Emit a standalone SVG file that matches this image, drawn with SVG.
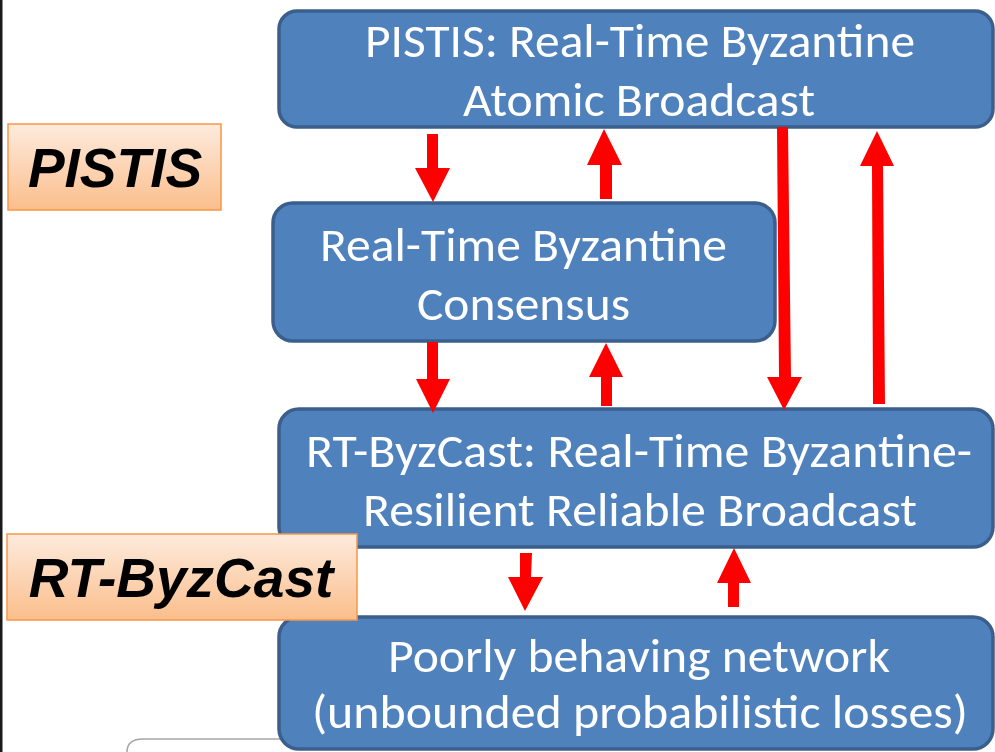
<svg xmlns="http://www.w3.org/2000/svg" width="995" height="752" viewBox="0 0 995 752">
  <defs>
    <linearGradient id="orangeFill" x1="0" y1="0" x2="0" y2="1">
      <stop offset="0" stop-color="#FDEBDD"/>
      <stop offset="1" stop-color="#FBBE8C"/>
    </linearGradient>
    <style>
      .box { fill: #4F81BD; stroke: #3A5F8C; stroke-width: 3.5; }
      .boxText { fill: #FFFFFF; font-family: Carlito, Calibri, "Open Sans", "Noto Sans", sans-serif; font-size: 47px; text-anchor: middle; }
      .tag { fill: url(#orangeFill); stroke: #F79646; stroke-width: 1.5; }
      .tagText { fill: #000000; font-family: "Liberation Sans", Arial, sans-serif; font-size: 55px; font-weight: bold; font-style: italic; text-anchor: middle; }
      .arrow { fill: #FF0000; }
    </style>
  </defs>

  <rect width="995" height="752" fill="#FFFFFF"/>
  <!-- left border line -->
  <rect x="0" y="0" width="2.5" height="752" fill="#1A1A1A"/>

  <!-- partially hidden frame in the lower-left corner -->
  <path d="M127,754 L127,752 Q127,739 143,739 L300,739" fill="none" stroke="#A6A6A6" stroke-width="1.5"/>

  <g id="node-pistis-broadcast">
    <rect class="box" x="279" y="11" width="714" height="116" rx="18"/>
    <text class="boxText" x="640" y="57" textLength="550" lengthAdjust="spacingAndGlyphs">PISTIS: Real-Time Byzantine</text>
    <text class="boxText" x="639" y="116" textLength="352" lengthAdjust="spacingAndGlyphs">Atomic Broadcast</text>
  </g>

  <g id="node-consensus">
    <rect class="box" x="273" y="203" width="502" height="138" rx="20"/>
    <text class="boxText" x="523.5" y="261" textLength="407" lengthAdjust="spacingAndGlyphs">Real-Time Byzantine</text>
    <text class="boxText" x="523.5" y="320" textLength="213" lengthAdjust="spacingAndGlyphs">Consensus</text>
  </g>

  <g id="node-rt-byzcast">
    <rect class="box" x="279" y="409" width="714" height="138" rx="20"/>
    <text class="boxText" x="639" y="467" textLength="666" lengthAdjust="spacingAndGlyphs">RT-ByzCast: Real-Time Byzantine-</text>
    <text class="boxText" x="640" y="526" textLength="554" lengthAdjust="spacingAndGlyphs">Resilient Reliable Broadcast</text>
  </g>

  <g id="node-network">
    <rect class="box" x="279" y="617" width="714" height="132" rx="20"/>
    <text class="boxText" x="639" y="672" textLength="502" lengthAdjust="spacingAndGlyphs">Poorly behaving network</text>
    <text class="boxText" x="640" y="728" textLength="656" lengthAdjust="spacingAndGlyphs">(unbounded probabilistic losses)</text>
  </g>

  <g id="connectors">
    <!-- broadcast -> consensus -->
    <polygon class="arrow" points="427,134 438,134 438,168 450,168 433,202 415,168 427,168"/>
    <!-- consensus -> broadcast -->
    <polygon class="arrow" points="600,199 612,199 612,165 622,165 604,129 587,165 600,165"/>
    <!-- consensus -> rt-byzcast -->
    <polygon class="arrow" points="427,342 438,342 438,379 450,379 433,413 416,379 427,379"/>
    <!-- rt-byzcast -> consensus -->
    <polygon class="arrow" points="601,406 612,406 612,377 623,377 606,343 589,377 601,377"/>
    <!-- broadcast -> rt-byzcast (direct) -->
    <polygon class="arrow" points="777,127 788,127 791,377 802,377 784,410 767,377 779,377"/>
    <!-- rt-byzcast -> broadcast (direct) -->
    <polygon class="arrow" points="873,404 885,404 883,166 894,166 877,131 860,166 872,166"/>
    <!-- rt-byzcast -> network -->
    <polygon class="arrow" points="520,553 532,553 531,577 543,577 525,611 508,577 520,577"/>
    <!-- network -> rt-byzcast -->
    <polygon class="arrow" points="728,607 739,607 739,583 751,583 734,548 717,583 728,583"/>
  </g>

  <g id="label-pistis">
    <rect class="tag" x="8" y="124" width="213" height="86"/>
    <text class="tagText" x="115" y="187">PISTIS</text>
  </g>

  <g id="label-rt-byzcast">
    <rect class="tag" x="7" y="534" width="350" height="86"/>
    <text class="tagText" x="181" y="597">RT-ByzCast</text>
  </g>
</svg>
